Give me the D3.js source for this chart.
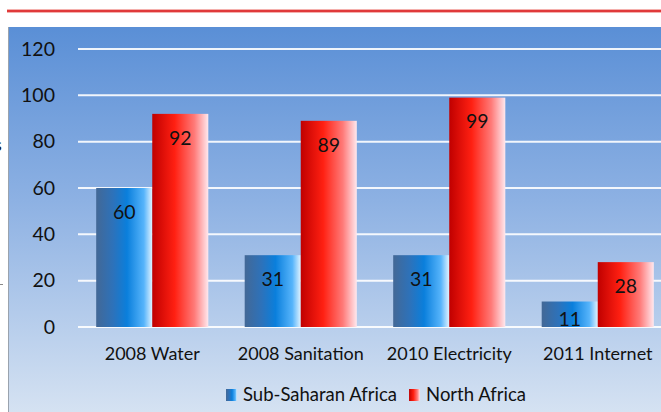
<!DOCTYPE html>
<html>
<head>
<meta charset="utf-8">
<script src="https://cdn.jsdelivr.net/npm/d3@7"></script>
<style>
  html, body { margin: 0; padding: 0; background: #fff; }
  svg { display: block; }
  text { font-family: Lato, "Open Sans", sans-serif; fill: #111; }
</style>
</head>
<body>
<div id="chart"></div>
<script>
// --- Data ---
const categories = ["2008 Water", "2008 Sanitation", "2010 Electricity", "2011 Internet"];
const seriesNames = ["Sub-Saharan Africa", "North Africa"];
const subSaharan = [60, 31, 31, 11];
const northAfrica = [92, 89, 99, 28];
const yTicks = [0, 20, 40, 60, 80, 100, 120];

// --- Layout ---
const width = 661, height = 412;
const plot = { left: 78, right: 672, top: 49, bottom: 327 };

const svg = d3.select("#chart").append("svg")
    .attr("width", width)
    .attr("height", height);

const defs = svg.append("defs");

// background gradient of the chart area
const bg = defs.append("linearGradient").attr("id", "bg")
    .attr("x1", 0).attr("y1", 0).attr("x2", 0).attr("y2", 1);
bg.append("stop").attr("offset", "0%").attr("stop-color", "#5a8fd6");
bg.append("stop").attr("offset", "45%").attr("stop-color", "#8db1e3");
bg.append("stop").attr("offset", "100%").attr("stop-color", "#d5e2f2");

// bar gradients (left to right)
const blueGrad = defs.append("linearGradient").attr("id", "blueGrad")
    .attr("x1", 0).attr("y1", 0).attr("x2", 1).attr("y2", 0);
[["0%", "#436896"], ["30%", "#2d72ba"], ["55%", "#0a7fdc"], ["85%", "#56b4fb"], ["100%", "#dff2ff"]]
    .forEach(s => blueGrad.append("stop").attr("offset", s[0]).attr("stop-color", s[1]));

const redGrad = defs.append("linearGradient").attr("id", "redGrad")
    .attr("x1", 0).attr("y1", 0).attr("x2", 1).attr("y2", 0);
[["0%", "#c00000"], ["40%", "#ff2012"], ["75%", "#ff7a78"], ["100%", "#ffe8ee"]]
    .forEach(s => redGrad.append("stop").attr("offset", s[0]).attr("stop-color", s[1]));

// top red rule
svg.append("rect").attr("x", 7).attr("y", 9).attr("width", width).attr("height", 4).attr("fill", "#f4b0ad");
svg.append("rect").attr("x", 7).attr("y", 10).attr("width", width).attr("height", 2).attr("fill", "#e03a3a");

// chart area
svg.append("rect")
    .attr("x", 9).attr("y", 27)
    .attr("width", width - 9).attr("height", height - 27)
    .attr("fill", "url(#bg)");
svg.append("line")
    .attr("x1", 8.5).attr("x2", 8.5).attr("y1", 27).attr("y2", height)
    .attr("stroke", "#9aa3ae").attr("stroke-width", 1);

// cropped bits of text from outside the chart (left edge)
svg.append("text").attr("x", -6).attr("y", 151)
    .attr("font-size", 18).attr("fill", "#666").text("s");
svg.append("line").attr("x1", 0).attr("x2", 3).attr("y1", 284.5).attr("y2", 284.5)
    .attr("stroke", "#888").attr("stroke-width", 1);

// --- Scales ---
const x0 = d3.scaleBand()
    .domain(categories)
    .range([plot.left, plot.right])
    .paddingInner(0.245)
    .paddingOuter(0.1225);

const x1 = d3.scaleBand()
    .domain(seriesNames)
    .range([0, x0.bandwidth()]);

const y = d3.scaleLinear()
    .domain([0, 120])
    .range([plot.bottom, plot.top]);

// gridlines
svg.append("g").selectAll("line").data(yTicks).enter().append("line")
    .attr("x1", plot.left).attr("x2", width)
    .attr("y1", d => y(d)).attr("y2", d => y(d))
    .attr("stroke", "#ffffff").attr("stroke-width", 2).attr("stroke-opacity", 0.9);

// y axis labels
const yAxis = svg.append("g")
    .attr("transform", `translate(55,0)`)
    .call(d3.axisLeft(y).tickValues(yTicks).tickSize(0).tickPadding(0));
yAxis.select(".domain").remove();
yAxis.selectAll("text")
    .attr("font-family", "Lato, sans-serif")
    .attr("font-size", 19.5)
    .attr("fill", "#111");

// x axis labels
const xAxis = svg.append("g")
    .attr("transform", `translate(0,${plot.bottom})`)
    .call(d3.axisBottom(x0).tickSize(0).tickPadding(20));
xAxis.select(".domain").remove();
xAxis.selectAll("text")
    .attr("font-family", "Lato, sans-serif")
    .attr("font-size", 18)
    .attr("fill", "#111");

// --- Bars ---
const rows = categories.map((c, i) => ({
    category: c,
    values: [
        { name: seriesNames[0], value: subSaharan[i], fill: "url(#blueGrad)" },
        { name: seriesNames[1], value: northAfrica[i], fill: "url(#redGrad)" }
    ]
}));

const groups = svg.append("g").selectAll("g").data(rows).enter().append("g")
    .attr("transform", d => `translate(${x0(d.category)},0)`);

groups.selectAll("rect").data(d => d.values).enter().append("rect")
    .attr("x", d => x1(d.name))
    .attr("y", d => y(d.value))
    .attr("width", x1.bandwidth())
    .attr("height", d => y(0) - y(d.value))
    .attr("fill", d => d.fill);

groups.selectAll("text.val").data(d => d.values).enter().append("text")
    .attr("class", "val")
    .attr("x", d => x1(d.name) + x1.bandwidth() / 2)
    .attr("y", d => Math.min(y(d.value) + 24, y(0) - 8))
    .attr("dy", "0.35em")
    .attr("text-anchor", "middle")
    .attr("font-size", 19.5)
    .text(d => d.value);

// --- Legend ---
const legend = svg.append("g").attr("transform", "translate(226,395)");
const fills = ["url(#blueGrad)", "url(#redGrad)"];
let lx = 0;
seriesNames.forEach((name, i) => {
    legend.append("rect")
        .attr("x", lx).attr("y", -6)
        .attr("width", 11).attr("height", 12)
        .attr("fill", fills[i]);
    const t = legend.append("text")
        .attr("x", lx + 17).attr("y", 0)
        .attr("dy", "0.35em")
        .attr("font-size", 18.5)
        .text(name);
    lx += 17 + t.node().getComputedTextLength() + 12;
});
</script>
</body>
</html>
